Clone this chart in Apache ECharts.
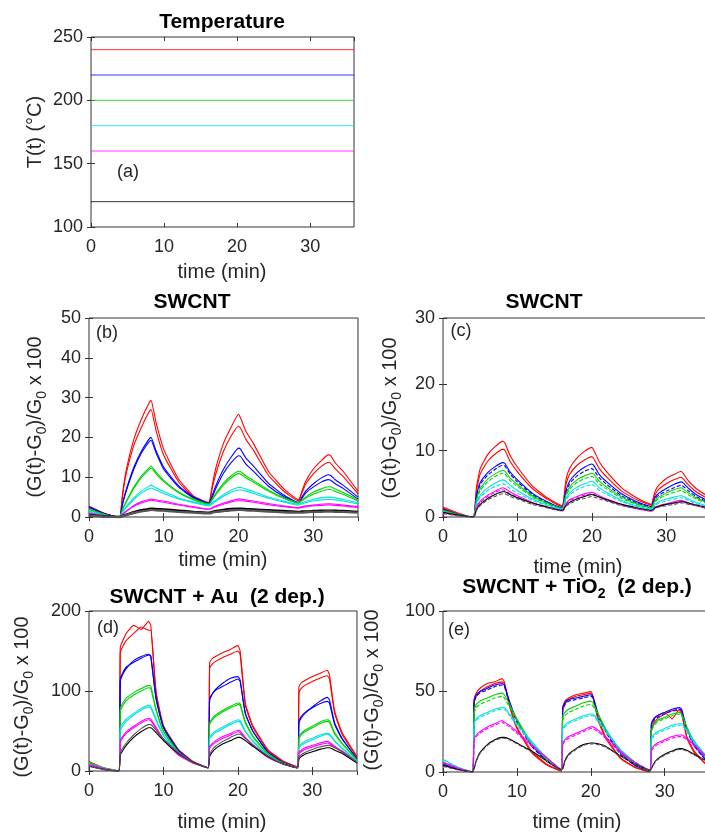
<!DOCTYPE html>
<html>
<head>
<meta charset="utf-8">
<title>SWCNT response</title>
<script src="https://cdn.jsdelivr.net/npm/echarts@6.0.0/dist/echarts.min.js"></script>
<style>
    html, body {margin: 0; padding: 0; background: #fff;}
    #chart {width: 705px; height: 832px;}
</style>
</head>
<body>
<div id="chart"></div>
<script>
// sample times (min), shared by every response curve
const TIME = [0, 2, 4, 4.2, 4.5, 5, 6, 7, 8, 8.3, 9, 10, 12, 14, 16, 16.2, 16.5, 17, 18, 19, 20,
    20.3, 21, 22, 24, 26, 28, 28.2, 28.5, 29, 30, 31, 32, 32.3, 33, 34, 36];

// panel (a): set temperatures
const TEMP_TIME = [0, 36];
const TEMP_LEVELS = [240, 220, 200, 180, 160, 120];

const COLORS = ['#ff0000', '#0000ff', '#00d400', '#00e0e0', '#ff00ff', '#000000'];
const GREY = '#555555';

// panel (b): SWCNT
const b_red1 = [2.7, 1.0, 0, 0.3, 6, 12, 19.5, 24.5, 28.5, 29.3, 23.5, 17, 9.5, 5.3, 3.6, 4.5, 8, 12.5, 18.5, 22.5, 25.8, 24.8, 21.5, 18.5, 11.5, 7.2, 4.4, 4.8, 6.5, 9, 12, 14, 15.6, 15.5, 13.5, 11.5, 6.5];
const b_red2 = [2.5, 0.9, 0, 0.3, 5.5, 11, 18, 22.5, 26.3, 27, 21.5, 15.5, 8.8, 5, 3.4, 4.2, 7.3, 11, 16.5, 20.3, 22.8, 22.3, 19.5, 16.8, 10.5, 6.6, 4.1, 4.5, 6, 8.3, 10.8, 12.6, 13.7, 13.6, 12, 10.2, 5.8];
const b_blue1 = [2.6, 0.9, 0, 0.2, 3.5, 7, 12.5, 16.5, 19.5, 20, 16.5, 12.5, 7.8, 5, 3.5, 3.8, 5.5, 8, 12, 15, 17.3, 17, 14.8, 12.8, 8.5, 5.6, 3.7, 4, 5, 6.5, 8.3, 9.7, 10.6, 10.5, 9.3, 8, 5];
const b_blue2 = [2.4, 0.8, 0, 0.2, 3.3, 6.6, 12, 16, 18.8, 19.3, 16, 12, 7.5, 4.8, 3.4, 3.7, 5, 7.3, 11, 13.6, 15.4, 15.2, 13.3, 11.5, 7.8, 5.2, 3.5, 3.8, 4.7, 6, 7.5, 8.7, 9.4, 9.3, 8.3, 7.2, 4.5];
const b_green1 = [2.0, 0.7, 0, 0.2, 2, 4, 7.5, 10.3, 12.3, 12.8, 11.2, 9.2, 6.3, 4.5, 3.3, 3.5, 4.5, 6, 8.5, 10.3, 11.5, 11.4, 10.3, 9.2, 6.8, 4.9, 3.6, 3.8, 4.3, 5, 6.2, 7, 7.6, 7.6, 7, 6.2, 4.3];
const b_green2 = [1.8, 0.6, 0, 0.2, 1.9, 3.8, 7.2, 9.9, 11.8, 12.3, 10.8, 8.9, 6.1, 4.3, 3.2, 3.4, 4.3, 5.7, 8, 9.8, 10.9, 10.8, 9.8, 8.8, 6.5, 4.7, 3.5, 3.7, 4.1, 4.7, 5.7, 6.4, 6.9, 6.9, 6.4, 5.7, 4];
const b_cyan1 = [1.5, 0.5, 0, 0.1, 1.3, 2.6, 4.8, 6.5, 7.7, 8, 7.3, 6.4, 4.8, 3.8, 3, 3.1, 3.6, 4.3, 5.6, 6.7, 7.4, 7.4, 7, 6.4, 5, 4, 3.2, 3.3, 3.6, 3.9, 4.4, 4.8, 5, 5, 4.8, 4.4, 3.6];
const b_cyan2 = [1.3, 0.4, 0, 0.1, 1.2, 2.4, 4.4, 6, 7.1, 7.3, 6.7, 5.9, 4.5, 3.6, 2.8, 2.9, 3.3, 4, 5.2, 6.2, 6.8, 6.8, 6.5, 5.9, 4.7, 3.8, 3, 3.1, 3.3, 3.6, 4, 4.3, 4.4, 4.4, 4.3, 4, 3.3];
const b_mag1 = [1.0, 0.4, 0, 0.1, 0.7, 1.5, 2.9, 3.8, 4.4, 4.5, 4.3, 4, 3.2, 2.6, 2, 2.1, 2.4, 2.8, 3.5, 4.1, 4.5, 4.5, 4.3, 4, 3.4, 2.8, 2.4, 2.5, 2.6, 2.8, 3, 3.2, 3.3, 3.3, 3.2, 3, 2.6];
const b_mag2 = [0.9, 0.3, 0, 0.1, 0.6, 1.4, 2.7, 3.5, 4.1, 4.2, 4, 3.7, 3, 2.4, 1.9, 2, 2.2, 2.6, 3.2, 3.8, 4.1, 4.1, 4, 3.7, 3.1, 2.6, 2.2, 2.3, 2.4, 2.6, 2.8, 2.9, 3, 3, 2.9, 2.8, 2.4];
const b_black1 = [0.5, 0.2, 0, 0, 0.3, 0.6, 1.2, 1.7, 2, 2.1, 2, 1.9, 1.6, 1.3, 1.1, 1.1, 1.3, 1.5, 1.8, 2, 2.1, 2.1, 2, 1.9, 1.7, 1.5, 1.3, 1.3, 1.4, 1.4, 1.5, 1.6, 1.6, 1.6, 1.6, 1.5, 1.3];
const b_black2 = [0.4, 0.1, 0, 0, 0.2, 0.5, 1, 1.4, 1.7, 1.8, 1.7, 1.6, 1.3, 1.1, 0.9, 0.9, 1.1, 1.3, 1.5, 1.7, 1.8, 1.8, 1.7, 1.6, 1.4, 1.2, 1.1, 1.1, 1.1, 1.2, 1.3, 1.3, 1.4, 1.4, 1.3, 1.3, 1.1];

// panel (c): SWCNT (second sample)
const c_red1 = [1.5, 0.6, 0, 0.2, 4.5, 7.3, 9.4, 10.6, 11.4, 11.2, 9.3, 7.5, 4.7, 2.9, 1.7, 2.5, 5.5, 7.3, 8.9, 9.9, 10.5, 10, 8.3, 6.8, 4.4, 2.9, 1.9, 2.7, 3.9, 4.8, 5.8, 6.4, 6.9, 6.5, 5.4, 4.3, 2.8];
const c_red2 = [1.3, 0.5, 0, 0.2, 4, 6.5, 8.4, 9.5, 10.2, 10.1, 8.4, 6.8, 4.3, 2.7, 1.6, 2.3, 4.8, 6.4, 7.8, 8.6, 9.1, 8.7, 7.3, 6, 3.9, 2.6, 1.8, 2.4, 3.4, 4.2, 5, 5.6, 6, 5.7, 4.8, 3.8, 2.5];
const c_blue1 = [1.2, 0.4, 0, 0.2, 3.2, 5.2, 6.7, 7.6, 8.2, 8.1, 6.8, 5.6, 3.6, 2.3, 1.4, 2, 3.9, 5.4, 6.7, 7.5, 8, 7.7, 6.4, 5.3, 3.5, 2.3, 1.6, 2.1, 3, 3.6, 4.3, 4.9, 5.3, 5.1, 4.3, 3.4, 2.2];
const c_blue2 = [1.1, 0.4, 0, 0.2, 3, 4.9, 6.3, 7.2, 7.8, 7.7, 6.5, 5.3, 3.4, 2.2, 1.3, 1.9, 3.6, 5, 6.2, 6.9, 7.3, 7, 5.9, 4.9, 3.2, 2.1, 1.5, 2, 2.8, 3.3, 3.9, 4.4, 4.8, 4.6, 3.9, 3.1, 2];
const c_green1 = [1.0, 0.4, 0, 0.2, 2.6, 4.3, 5.7, 6.5, 7, 6.9, 5.9, 4.9, 3.2, 2.1, 1.3, 1.8, 3.3, 4.5, 5.6, 6.2, 6.6, 6.4, 5.4, 4.5, 3, 2, 1.4, 1.8, 2.5, 3, 3.6, 4.1, 4.4, 4.2, 3.6, 2.9, 1.9];
const c_green2 = [0.9, 0.3, 0, 0.2, 2.4, 4, 5.3, 6.1, 6.6, 6.5, 5.5, 4.6, 3, 2, 1.2, 1.7, 3.1, 4.2, 5.2, 5.8, 6.1, 5.9, 5, 4.2, 2.8, 1.9, 1.3, 1.7, 2.3, 2.8, 3.3, 3.7, 4, 3.8, 3.3, 2.7, 1.8];
const c_cyan1 = [0.8, 0.3, 0, 0.1, 2, 3.3, 4.4, 5.1, 5.6, 5.5, 4.8, 4, 2.7, 1.8, 1.2, 1.5, 2.7, 3.6, 4.5, 5, 5.4, 5.2, 4.4, 3.7, 2.5, 1.7, 1.2, 1.4, 1.9, 2.3, 2.7, 3, 3.2, 3.1, 2.7, 2.2, 1.5];
const c_cyan2 = [0.7, 0.3, 0, 0.1, 1.8, 3, 4, 4.6, 5, 4.9, 4.3, 3.6, 2.5, 1.7, 1.1, 1.4, 2.5, 3.3, 4.1, 4.6, 4.9, 4.7, 4, 3.4, 2.3, 1.6, 1.1, 1.3, 1.7, 2.1, 2.4, 2.7, 2.9, 2.8, 2.5, 2, 1.4];
const c_mag1 = [0.6, 0.2, 0, 0.1, 1.4, 2.4, 3.3, 3.9, 4.4, 4.3, 3.8, 3.2, 2.2, 1.5, 1, 1.2, 2, 2.6, 3.1, 3.5, 3.7, 3.6, 3.2, 2.7, 1.9, 1.3, 0.9, 1.1, 1.5, 1.7, 2, 2.3, 2.5, 2.4, 2.1, 1.8, 1.2];
const c_mag2 = [0.5, 0.2, 0, 0.1, 1.3, 2.2, 3.1, 3.7, 4.1, 4, 3.5, 3, 2.1, 1.4, 0.9, 1.1, 1.9, 2.5, 2.9, 3.3, 3.5, 3.4, 3, 2.5, 1.8, 1.2, 0.9, 1, 1.4, 1.6, 1.9, 2.1, 2.3, 2.2, 2, 1.7, 1.1];
const c_black1 = [0.7, 0.3, 0, 0.1, 1.1, 1.9, 2.8, 3.4, 3.8, 3.8, 3.4, 2.9, 2.1, 1.5, 1, 1.1, 1.7, 2.2, 2.7, 3.1, 3.4, 3.3, 3, 2.6, 1.9, 1.4, 1, 1.1, 1.4, 1.6, 1.9, 2.1, 2.3, 2.3, 2.1, 1.8, 1.3];
const c_black2 = [0.6, 0.2, 0, 0.1, 1, 1.7, 2.6, 3.1, 3.5, 3.5, 3.1, 2.7, 1.9, 1.4, 0.9, 1, 1.6, 2, 2.5, 2.8, 3.1, 3, 2.7, 2.4, 1.7, 1.3, 0.9, 1, 1.3, 1.5, 1.7, 1.9, 2.1, 2.1, 1.9, 1.7, 1.2];

// panel (d): SWCNT + Au (2 dep.)
const d_red1 = [12, 4, 0, 155, 162, 172, 182, 177, 187, 182, 100, 57, 27, 12, 4, 135, 140, 143, 148, 152, 157, 150, 85, 57, 27, 13, 5, 105, 110, 113, 118, 122, 126, 120, 75, 48, 18];
const d_red2 = [10, 3, 0, 148, 155, 163, 172, 180, 176, 176, 98, 55, 26, 11, 4, 128, 133, 137, 142, 146, 150, 146, 82, 55, 26, 12, 5, 98, 103, 107, 112, 116, 119, 115, 72, 46, 17];
const d_blue1 = [9, 3, 0, 115, 122, 130, 136, 141, 145, 143, 92, 55, 26, 11, 4, 90, 96, 101, 106, 111, 115, 112, 72, 50, 24, 11, 4, 62, 68, 73, 79, 84, 87, 85, 58, 40, 15];
const d_blue2 = [8, 3, 0, 112, 120, 128, 138, 143, 146, 144, 90, 54, 25, 11, 4, 88, 95, 102, 110, 116, 118, 114, 72, 50, 24, 11, 4, 60, 66, 72, 80, 87, 92, 89, 60, 41, 15];
const d_green1 = [11, 4, 0, 78, 84, 91, 98, 103, 107, 106, 78, 50, 24, 11, 4, 60, 65, 70, 76, 81, 85, 84, 62, 44, 22, 10, 4, 42, 47, 51, 56, 61, 64, 63, 48, 35, 14];
const d_green2 = [10, 3, 0, 75, 81, 88, 95, 100, 104, 103, 76, 49, 23, 10, 4, 58, 63, 68, 74, 79, 83, 82, 60, 43, 21, 10, 4, 40, 45, 49, 54, 59, 62, 61, 46, 34, 13];
const d_cyan1 = [9, 3, 0, 54, 59, 65, 72, 78, 82, 81, 65, 45, 22, 10, 4, 42, 46, 50, 55, 60, 64, 63, 50, 38, 19, 9, 4, 30, 34, 37, 41, 45, 47, 46, 38, 29, 12];
const d_cyan2 = [8, 3, 0, 50, 56, 62, 70, 76, 80, 79, 63, 44, 21, 10, 4, 40, 44, 48, 53, 58, 62, 61, 49, 37, 19, 9, 4, 28, 32, 35, 39, 43, 46, 45, 37, 28, 12];
const d_mag1 = [8, 3, 0, 38, 43, 49, 56, 62, 66, 65, 55, 40, 21, 10, 4, 30, 34, 38, 43, 47, 51, 50, 42, 33, 18, 9, 4, 23, 26, 29, 32, 35, 37, 36, 31, 25, 11];
const d_mag2 = [7, 2, 0, 36, 41, 47, 54, 60, 64, 63, 53, 39, 20, 10, 4, 28, 32, 36, 41, 45, 49, 48, 41, 32, 17, 9, 4, 21, 24, 27, 30, 33, 35, 34, 30, 24, 10];
const d_black1 = [6, 2, 0, 20, 25, 32, 42, 49, 54, 54, 48, 38, 22, 11, 4, 18, 23, 28, 34, 38, 42, 42, 38, 31, 18, 9, 4, 15, 18, 21, 24, 27, 29, 29, 26, 22, 10];
const d_black2 = [6, 2, 0, 22, 28, 35, 45, 53, 58, 58, 51, 40, 23, 11, 4, 20, 26, 31, 37, 42, 46, 46, 41, 33, 19, 9, 4, 17, 20, 23, 27, 30, 32, 32, 29, 24, 11];

// panel (e): SWCNT + TiO2 (2 dep.)
const e_red1 = [5, 2, 0, 45, 49, 52, 55, 56, 58, 56, 42, 28, 13, 5, 0.5, 40, 44, 46, 48, 49, 50, 47, 33, 22, 9, 3, 0, 28, 32, 35, 37, 33, 39, 37, 22, 13, 3];
const e_red2 = [4.5, 1.8, 0, 42, 47, 50, 53, 55, 56, 55, 41, 27, 12, 4.5, 0.5, 38, 42, 45, 47, 48, 49, 46, 32, 21, 8.5, 2.8, 0, 26, 30, 33, 36, 38, 38, 36, 21, 12, 3];
const e_blue1 = [5, 2, 0, 44, 48, 50, 52, 54, 55, 54, 44, 32, 17, 7, 1, 40, 43, 45, 46, 47, 48, 47, 36, 26, 12, 4, 0.5, 30, 33, 35, 37, 39, 40, 39, 27, 17, 5];
const e_blue2 = [4.5, 1.8, 0, 43, 47, 49, 51, 53, 54, 53, 43, 31, 16, 7, 1, 39, 42, 44, 45, 46, 47, 46, 35, 25, 11, 4, 0.5, 29, 32, 34, 36, 38, 39, 38, 26, 16, 5];
const e_green1 = [6, 2.5, 0, 38, 42, 44, 46, 48, 49, 48, 42, 33, 18, 8, 1, 34, 37, 39, 41, 43, 44, 43, 36, 27, 13, 5, 0.5, 26, 29, 32, 34, 36, 37, 36, 28, 19, 6];
const e_green2 = [6, 2.5, 0, 36, 40, 42, 44, 46, 47, 46, 40, 32, 17, 8, 1, 32, 35, 37, 39, 41, 42, 41, 35, 26, 13, 5, 0.5, 25, 28, 31, 33, 35, 36, 35, 27, 18, 6];
const e_cyan1 = [8, 3, 0, 30, 33, 35, 37, 39, 40, 40, 36, 30, 19, 9, 1.5, 27, 29, 31, 33, 35, 36, 36, 32, 26, 14, 6, 1, 21, 23, 25, 27, 29, 30, 30, 26, 19, 8];
const e_cyan2 = [7.5, 3, 0, 29, 32, 34, 36, 38, 39, 39, 35, 29, 18, 9, 1.5, 26, 28, 30, 32, 34, 35, 35, 31, 25, 14, 6, 1, 20, 22, 24, 26, 28, 29, 29, 25, 18, 8];
const e_mag1 = [6, 2.5, 0, 20, 23, 25, 28, 30, 32, 31, 29, 25, 17, 9, 1.5, 18, 20, 22, 24, 26, 28, 28, 26, 22, 13, 6, 1, 14, 16, 18, 20, 22, 23, 23, 21, 17, 8];
const e_mag2 = [5.5, 2, 0, 19, 22, 24, 27, 29, 31, 30, 28, 24, 16, 9, 1.5, 17, 19, 21, 23, 25, 27, 27, 25, 21, 12, 6, 1, 13, 15, 17, 19, 21, 22, 22, 20, 16, 7];
const e_black1 = [4, 1.5, 0, 2, 7, 12, 17, 20, 21.5, 21.5, 20.5, 18, 13, 7, 1.5, 2, 7, 11, 14.5, 17, 18, 18, 17.5, 16, 10, 5, 1, 2, 5, 8, 11, 13, 14.5, 14.5, 13.5, 11, 6];
const e_black2 = [3.5, 1.3, 0, 2, 6.5, 11.5, 16.5, 19.5, 21, 21, 20, 17.5, 12.5, 7, 1.5, 2, 6.5, 10.5, 14, 16.5, 17.5, 17.5, 17, 15.5, 10, 5, 1, 2, 4.5, 7.5, 10.5, 12.5, 14, 14, 13, 10.5, 6];

const FONT = 'Liberation Sans, Arial, Helvetica, sans-serif';
const INK = '#262626';

// one entry per axes box: pixel box + y range
const panels = [
    {left: 91, top: 37, width: 263, height: 190, ymin: 100, ymax: 250, yint: 50},
    {left: 89, top: 318, width: 269, height: 199, ymin: 0, ymax: 50, yint: 10},
    {left: 443, top: 318, width: 268, height: 199, ymin: 0, ymax: 30, yint: 10},
    {left: 89, top: 611, width: 268, height: 160, ymin: 0, ymax: 200, yint: 100},
    {left: 443, top: 611, width: 266, height: 161, ymin: 0, ymax: 100, yint: 50}
];

let grids = [], xAxes = [], yAxes = [];
panels.forEach((p, i) => {
    grids.push({
        left: p.left, top: p.top, width: p.width, height: p.height,
        show: true, borderColor: '#333', borderWidth: 1,
        outerBoundsMode: 'none'
    });
    // bottom + top (mirror) x axes
    [false, true].forEach(mirror => {
        xAxes.push({
            type: 'value', gridIndex: i, min: 0, max: 36, interval: 10,
            position: mirror ? 'top' : 'bottom',
            axisLine: {show: false},
            axisTick: {show: true, inside: true, length: 4, lineStyle: {color: '#333'}},
            axisLabel: {show: !mirror, showMaxLabel: false, fontSize: 18, color: INK, fontFamily: FONT, margin: 11},
            splitLine: {show: false}
        });
    });
    // left + right (mirror) y axes
    [false, true].forEach(mirror => {
        yAxes.push({
            type: 'value', gridIndex: i, min: p.ymin, max: p.ymax, interval: p.yint,
            position: mirror ? 'right' : 'left',
            axisLine: {show: false},
            axisTick: {show: true, inside: true, length: 4, lineStyle: {color: '#333'}},
            axisLabel: {show: !mirror, fontSize: 18, color: INK, fontFamily: FONT, margin: 8},
            splitLine: {show: false}
        });
    });
});

function curve(panel, values, color, opts){
    opts = opts || {};
    return {
        type: 'line',
        xAxisIndex: panel * 2,
        yAxisIndex: panel * 2,
        data: TIME.map((t, k) => [t, values[k]]),
        showSymbol: false,
        silent: true,
        clip: true,
        smooth: 0.15,
        lineStyle: {color: color, width: opts.width || 1.1, type: opts.dash ? [4, 2] : 'solid'}
    };
}

let series = [];

// temperature levels
TEMP_LEVELS.forEach((lvl, i) => {
    series.push({
        type: 'line', xAxisIndex: 0, yAxisIndex: 0,
        data: TEMP_TIME.map(t => [t, lvl]),
        showSymbol: false, silent: true,
        lineStyle: {color: COLORS[i], width: 1, opacity: 0.8}
    });
});

const sets = [
    [b_red1, b_red2, b_blue1, b_blue2, b_green1, b_green2, b_cyan1, b_cyan2, b_mag1, b_mag2, b_black1, b_black2],
    [c_red1, c_red2, c_blue1, c_blue2, c_green1, c_green2, c_cyan1, c_cyan2, c_mag1, c_mag2, c_black1, c_black2],
    [d_red1, d_red2, d_blue1, d_blue2, d_green1, d_green2, d_cyan1, d_cyan2, d_mag1, d_mag2, d_black1, d_black2],
    [e_red1, e_red2, e_blue1, e_blue2, e_green1, e_green2, e_cyan1, e_cyan2, e_mag1, e_mag2, e_black1, e_black2]
];

sets.forEach((set, s) => {
    set.forEach((vals, j) => {
        let c = Math.floor(j / 2);
        let second = j % 2 === 1;
        let color = COLORS[c];
        let opts = {};
        if (c === 5 && second) color = GREY;
        if (second && (s === 1 || s === 3) && c > 0) opts.dash = true;
        if (s === 0 && c === 5) opts.width = 2.4;
        series.push(curve(s + 1, vals, color, opts));
    });
});

// titles, axis names and panel tags
function txt(x, y, text, size, bold, extra){
    return Object.assign({
        type: 'text', x: x, y: y, silent: true,
        style: {
            text: text, fill: bold ? '#000' : INK, font: (bold ? 'bold ' : '') + size + 'px ' + FONT,
            align: 'center', verticalAlign: 'middle'
        }
    }, extra || {});
}

const yRich = {
    n: {fontSize: 20, fontFamily: FONT, fill: INK, lineHeight: 28},
    s: {fontSize: 14, fontFamily: FONT, fill: INK, lineHeight: 14, verticalAlign: 'bottom'}
};
function yLabel(x, y){
    return {
        type: 'text', x: x, y: y, rotation: Math.PI / 2, silent: true,
        style: {
            text: '{n|(G(t)-G}{s|0}{n|)/G}{s|0}{n| x 100}',
            rich: yRich, align: 'center', verticalAlign: 'middle'
        }
    };
}

let graphics = [
    txt(222, 22, 'Temperature', 21, true),
    txt(192, 302, 'SWCNT', 21, true),
    txt(544, 302, 'SWCNT', 21, true),
    txt(217, 597, 'SWCNT + Au  (2 dep.)', 21, true),
    {
        type: 'text', x: 577, y: 587, silent: true,
        style: {
            text: '{b|SWCNT + TiO}{s|2}{b|  (2 dep.)}',
            rich: {
                b: {fontSize: 21, fontWeight: 'bold', fontFamily: FONT, fill: '#000', lineHeight: 28},
                s: {fontSize: 14, fontWeight: 'bold', fontFamily: FONT, fill: '#000', lineHeight: 14, verticalAlign: 'bottom'}
            },
            align: 'center', verticalAlign: 'middle'
        }
    },
    txt(222, 272, 'time (min)', 20, false),
    txt(223, 560, 'time (min)', 20, false),
    txt(578, 567, 'time (min)', 20, false),
    txt(222, 822, 'time (min)', 20, false),
    txt(577, 822, 'time (min)', 20, false),
    txt(35, 132, 'T(t) (°C)', 20, false, {rotation: Math.PI / 2}),
    yLabel(35, 417),
    yLabel(390, 418),
    yLabel(22, 697),
    yLabel(372, 690),
    txt(128, 172, '(a)', 18, false),
    txt(107, 333, '(b)', 18, false),
    txt(461, 331, '(c)', 18, false),
    txt(108, 628, '(d)', 18, false),
    txt(459, 630, '(e)', 18, false)
];

let chart = echarts.init(document.getElementById('chart'), null, {renderer: 'canvas'});
chart.setOption({
    animation: false,
    backgroundColor: '#fff',
    grid: grids,
    xAxis: xAxes,
    yAxis: yAxes,
    series: series,
    graphic: graphics
});
</script>
</body>
</html>
